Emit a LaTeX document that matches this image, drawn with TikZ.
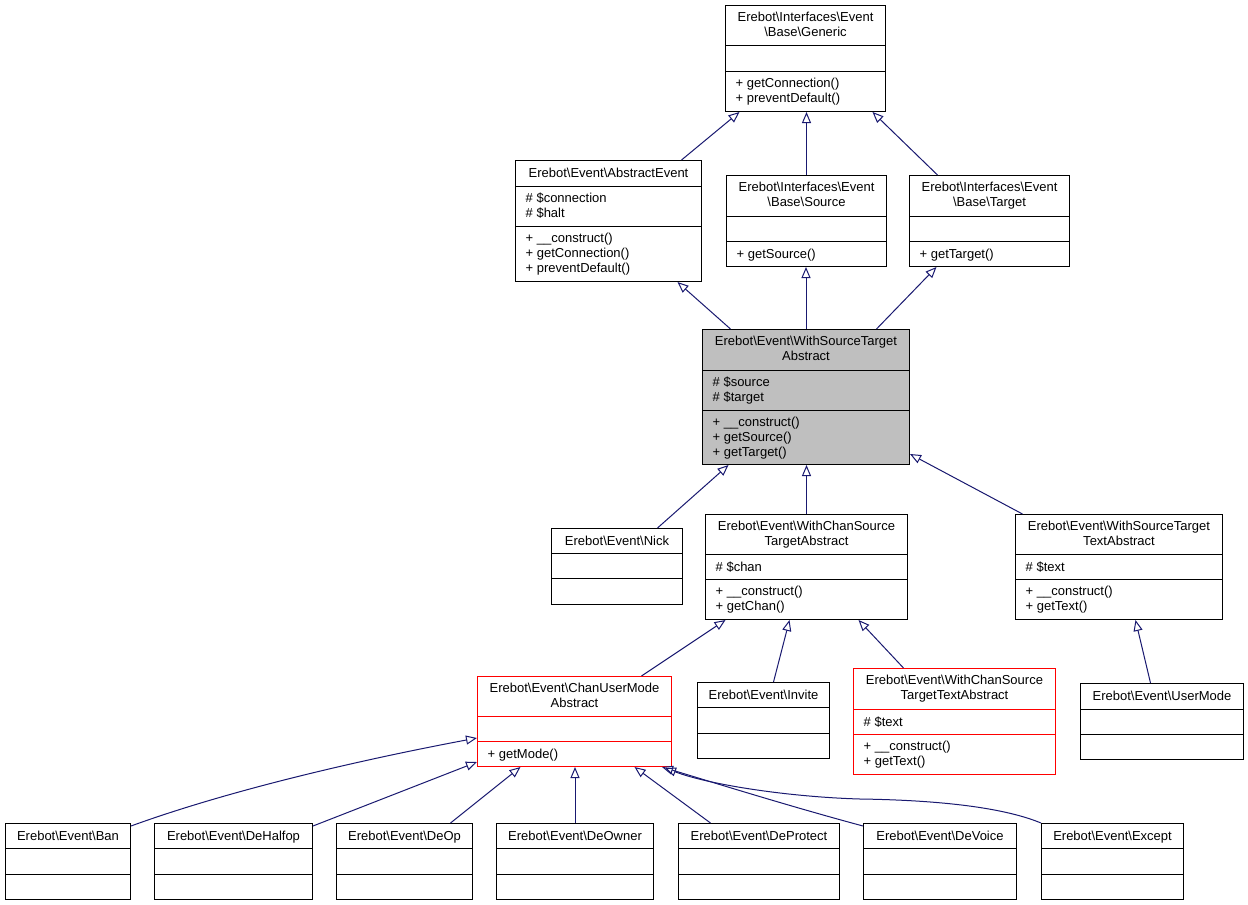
\documentclass[tikz,border=0pt]{standalone}
\usepackage{fontspec}
\usetikzlibrary{arrows.meta}
\newfontfamily\clsfamily{Liberation Sans}
\newcommand{\umlfont}{\clsfamily\fontsize{13}{15}\selectfont}
\newcommand{\BSL}{\textbackslash}
\definecolor{edgeblue}{HTML}{191970}
\definecolor{boxgray}{HTML}{BFBFBF}
\tikzset{
  clsblack/.style={draw=black, line width=1pt, fill=white, inner sep=0pt},
  clsred/.style={draw=red, line width=1pt, fill=white, inner sep=0pt},
  clsgray/.style={draw=black, line width=1pt, fill=boxgray, inner sep=0pt},
  ttl/.style={font=\umlfont, inner sep=0pt, anchor=north, align=center, execute at begin node=\strut},
  txt/.style={font=\umlfont, inner sep=0pt, anchor=north west, align=left, execute at begin node=\strut},
  inh/.style={draw=edgeblue, line width=1pt, -{Triangle[open, length=11pt, width=9pt]}},
}
% name, style, x1, x2, top, sep1, sep2, bottom
\newcommand{\umlbox}[8]{%
  \node[#2, anchor=north west, minimum width={#4-#3}, minimum height={#8-#5}] (#1) at (#3,-#5) {};
  \draw[#2, fill=none] (#3,-#6) -- (#4,-#6);
  \draw[#2, fill=none] (#3,-#7) -- (#4,-#7);
}
\newcommand{\umltitle}[2]{\node[ttl] (#1-t) at ([yshift=-7pt]#1.north) {#2};}
% name, x1, sep y, text
\newcommand{\umltext}[4]{\node[txt] (#1) at (#2+10.5,-#3-7) {#4};}
\begin{document}
\begin{tikzpicture}[x=1pt,y=1pt]
\useasboundingbox (0,0) rectangle (1248,-905);
\fill[white] (0,0) rectangle (1248,-905);

% ---- classes ----
\umlbox{gen}{clsblack}{725}{885}{5}{45}{71}{111}
\umltitle{gen}{Erebot\BSL Interfaces\BSL Event\\\BSL Base\BSL Generic}
\umltext{gen-m}{725}{71}{+ getConnection()\\+ preventDefault()}

\umlbox{ae}{clsblack}{515}{701}{160}{186}{226}{281}
\umltitle{ae}{Erebot\BSL Event\BSL AbstractEvent}
\umltext{ae-a}{515}{186}{\# \$connection\\\# \$halt}
\umltext{ae-m}{515}{226}{+ \_\_construct()\\+ getConnection()\\+ preventDefault()}

\umlbox{src}{clsblack}{726}{886}{175}{216}{241}{266}
\umltitle{src}{Erebot\BSL Interfaces\BSL Event\\\BSL Base\BSL Source}
\umltext{src-m}{726}{241}{+ getSource()}

\umlbox{tgt}{clsblack}{909}{1069}{175}{216}{241}{266}
\umltitle{tgt}{Erebot\BSL Interfaces\BSL Event\\\BSL Base\BSL Target}
\umltext{tgt-m}{909}{241}{+ getTarget()}

\umlbox{wst}{clsgray}{702}{909}{329}{370}{410}{464}
\umltitle{wst}{Erebot\BSL Event\BSL WithSourceTarget\\Abstract}
\umltext{wst-a}{702}{370}{\# \$source\\\# \$target}
\umltext{wst-m}{702}{410}{+ \_\_construct()\\+ getSource()\\+ getTarget()}

\umlbox{nick}{clsblack}{551}{682}{528}{553}{578}{604}
\umltitle{nick}{Erebot\BSL Event\BSL Nick}

\umlbox{wc}{clsblack}{705}{907}{514}{554}{579}{619}
\umltitle{wc}{Erebot\BSL Event\BSL WithChanSource\\TargetAbstract}
\umltext{wc-a}{705}{554}{\# \$chan}
\umltext{wc-m}{705}{579}{+ \_\_construct()\\+ getChan()}

\umlbox{wstt}{clsblack}{1015}{1222}{514}{554}{579}{619}
\umltitle{wstt}{Erebot\BSL Event\BSL WithSourceTarget\\TextAbstract}
\umltext{wstt-a}{1015}{554}{\# \$text}
\umltext{wstt-m}{1015}{579}{+ \_\_construct()\\+ getText()}

\umlbox{cum}{clsred}{477}{671}{676}{716}{741}{766}
\umltitle{cum}{Erebot\BSL Event\BSL ChanUserMode\\Abstract}
\umltext{cum-m}{477}{741}{+ getMode()}

\umlbox{inv}{clsblack}{697}{829}{682}{707}{733}{758}
\umltitle{inv}{Erebot\BSL Event\BSL Invite}

\umlbox{wcs}{clsred}{853}{1055}{668}{709}{734}{774}
\umltitle{wcs}{Erebot\BSL Event\BSL WithChanSource\\TargetTextAbstract}
\umltext{wcs-a}{853}{709}{\# \$text}
\umltext{wcs-m}{853}{734}{+ \_\_construct()\\+ getText()}

\umlbox{um}{clsblack}{1080}{1243}{683}{709}{734}{759}
\umltitle{um}{Erebot\BSL Event\BSL UserMode}

\umlbox{ban}{clsblack}{5}{130}{823}{848}{874}{899}
\umltitle{ban}{Erebot\BSL Event\BSL Ban}
\umlbox{dh}{clsblack}{154}{312}{823}{848}{874}{899}
\umltitle{dh}{Erebot\BSL Event\BSL DeHalfop}
\umlbox{deop}{clsblack}{336}{472}{823}{848}{874}{899}
\umltitle{deop}{Erebot\BSL Event\BSL DeOp}
\umlbox{dow}{clsblack}{496}{653}{823}{848}{874}{899}
\umltitle{dow}{Erebot\BSL Event\BSL DeOwner}
\umlbox{dp}{clsblack}{678}{839}{823}{848}{874}{899}
\umltitle{dp}{Erebot\BSL Event\BSL DeProtect}
\umlbox{dv}{clsblack}{863}{1016}{823}{848}{874}{899}
\umltitle{dv}{Erebot\BSL Event\BSL DeVoice}
\umlbox{ex}{clsblack}{1041}{1183}{823}{848}{874}{899}
\umltitle{ex}{Erebot\BSL Event\BSL Except}

% ---- inheritance edges ----
\draw[inh] ([xshift=73pt]ae.north) -- ([xshift=-66pt]gen.south);
\draw[inh] (src.north) -- (src.north |- gen.south);
\draw[inh] ([xshift=-52pt]tgt.north) -- ([xshift=67pt]gen.south);
\draw[inh] ([xshift=-75.5pt]wst.north) -- ([xshift=69pt]ae.south);
\draw[inh] (wst.north) -- (wst.north |- src.south);
\draw[inh] ([xshift=70.5pt]wst.north) -- ([xshift=-53pt]tgt.south);
\draw[inh] ([xshift=40.5pt]nick.north) -- ([xshift=-77.5pt]wst.south);
\draw[inh] (wc.north) -- (wc.north |- wst.south);
\draw[inh] ([xshift=-96.5pt]wstt.north) -- ([yshift=11pt]wst.south east);
\draw[inh] ([xshift=67pt]cum.north) -- ([xshift=-81pt]wc.south);
\draw[inh] ([xshift=10pt]inv.north) -- ([xshift=-17pt]wc.south);
\draw[inh] ([xshift=-51pt]wcs.north) -- ([xshift=52pt]wc.south);
\draw[inh] ([xshift=-11.5pt]um.north) -- ([xshift=16.5pt]wstt.south);
\draw[inh] ([yshift=-3pt]ban.north east) .. controls (230,-790) and (360,-760) .. ([yshift=29pt]cum.south west);
\draw[inh] ([yshift=-3pt]dh.north east) -- ([yshift=5pt]cum.south west);
\draw[inh] ([xshift=46pt]deop.north) -- ([xshift=-54pt]cum.south);
\draw[inh] (dow.north) -- (dow.north |- cum.south);
\draw[inh] ([xshift=-48.5pt]dp.north) -- ([xshift=60pt]cum.south);
\draw[inh] ([yshift=-3pt]dv.north west) .. controls (796,-808) and (728,-787) .. ([xshift=-10pt]cum.south east);
\coordinate (exmid) at (860,-799);
\draw[inh] (ex.north west) .. controls (1000,-806) and (930,-800) .. (exmid) .. controls (790,-797) and (710,-785) .. ([xshift=-7pt,yshift=-1pt]cum.south east);
\end{tikzpicture}
\end{document}
